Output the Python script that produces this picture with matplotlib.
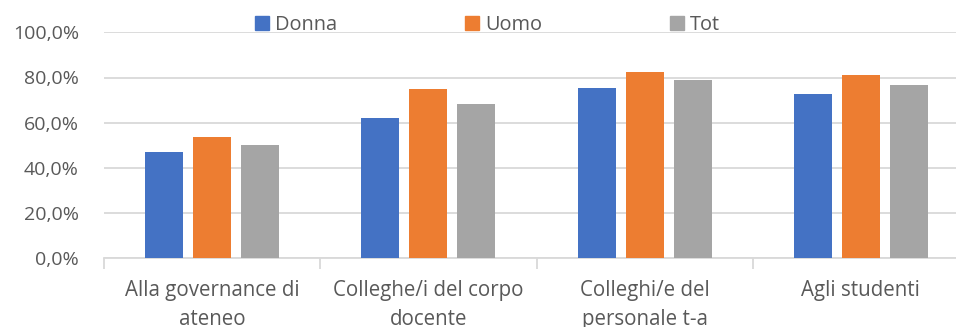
#!/usr/bin/env python3

"""Grouped bar chart: share by target group, women / men / total."""

import matplotlib
matplotlib.use('Agg')
import matplotlib.pyplot as plt
import matplotlib.patches as mpatches
from matplotlib.ticker import FuncFormatter, FixedLocator
import numpy as np

categories = ['Alla governance di\nateneo', 'Colleghe/i del corpo\ndocente',
              'Colleghi/e del\npersonale t-a', 'Agli studenti']
donna = [47.0, 62.2, 75.5, 72.8]
uomo = [53.7, 74.9, 82.6, 81.3]
tot = [50.3, 68.1, 78.9, 76.6]
series_names = ['Donna', 'Uomo', 'Tot']
colors = ['#4472C4', '#ED7D31', '#A5A5A5']

plt.rcParams['font.family'] = ['Open Sans', 'DejaVu Sans']
text_col = '#595959'

fig = plt.figure(figsize=(9.56, 3.27), dpi=100)
ax = fig.add_axes([104 / 956, 68.7 / 327, 865 / 956, 226 / 327])

x = np.arange(len(categories))
width = 0.176
step = 0.222
for i, (vals, col) in enumerate(zip([donna, uomo, tot], colors)):
    ax.bar(x + (i - 1) * step, vals, width, color=col, zorder=3)

ax.set_xlim(-0.5, len(categories) - 0.5)
ax.set_ylim(0, 100)
ax.set_yticks(np.arange(0, 101, 20))
ax.yaxis.set_major_formatter(FuncFormatter(
    lambda v, p: '{:.1f}%'.format(v).replace('.', ',')))
ax.grid(axis='y', color='#D9D9D9', linewidth=1.3, zorder=0)
ax.tick_params(axis='y', length=0, pad=18, labelsize=14, labelcolor=text_col)

ax.set_xticks(x)
ax.set_xticklabels(categories, fontsize=14.8, color=text_col, linespacing=1.5)
ax.tick_params(axis='x', which='major', length=0, pad=15.5)
ax.xaxis.set_minor_locator(FixedLocator(np.arange(-0.5, len(categories), 1.0)))
ax.tick_params(axis='x', which='minor', length=8, color='#D9D9D9', width=1.3)

for side in ['top', 'right', 'left']:
    ax.spines[side].set_visible(False)
ax.spines['bottom'].set_color('#D9D9D9')
ax.spines['bottom'].set_linewidth(1.3)

handles = [mpatches.Patch(color=c, label=n) for c, n in zip(colors, series_names)]
fig.legend(handles=handles, ncol=3, loc='center left',
           bbox_to_anchor=(255 / 956, 1 - 25 / 327), frameon=False,
           fontsize=14.4, labelcolor=text_col, handlelength=0.7,
           handleheight=0.7, handletextpad=0.3, columnspacing=6.4,
           borderaxespad=0, borderpad=0)

fig.savefig('out.png', dpi=100)
